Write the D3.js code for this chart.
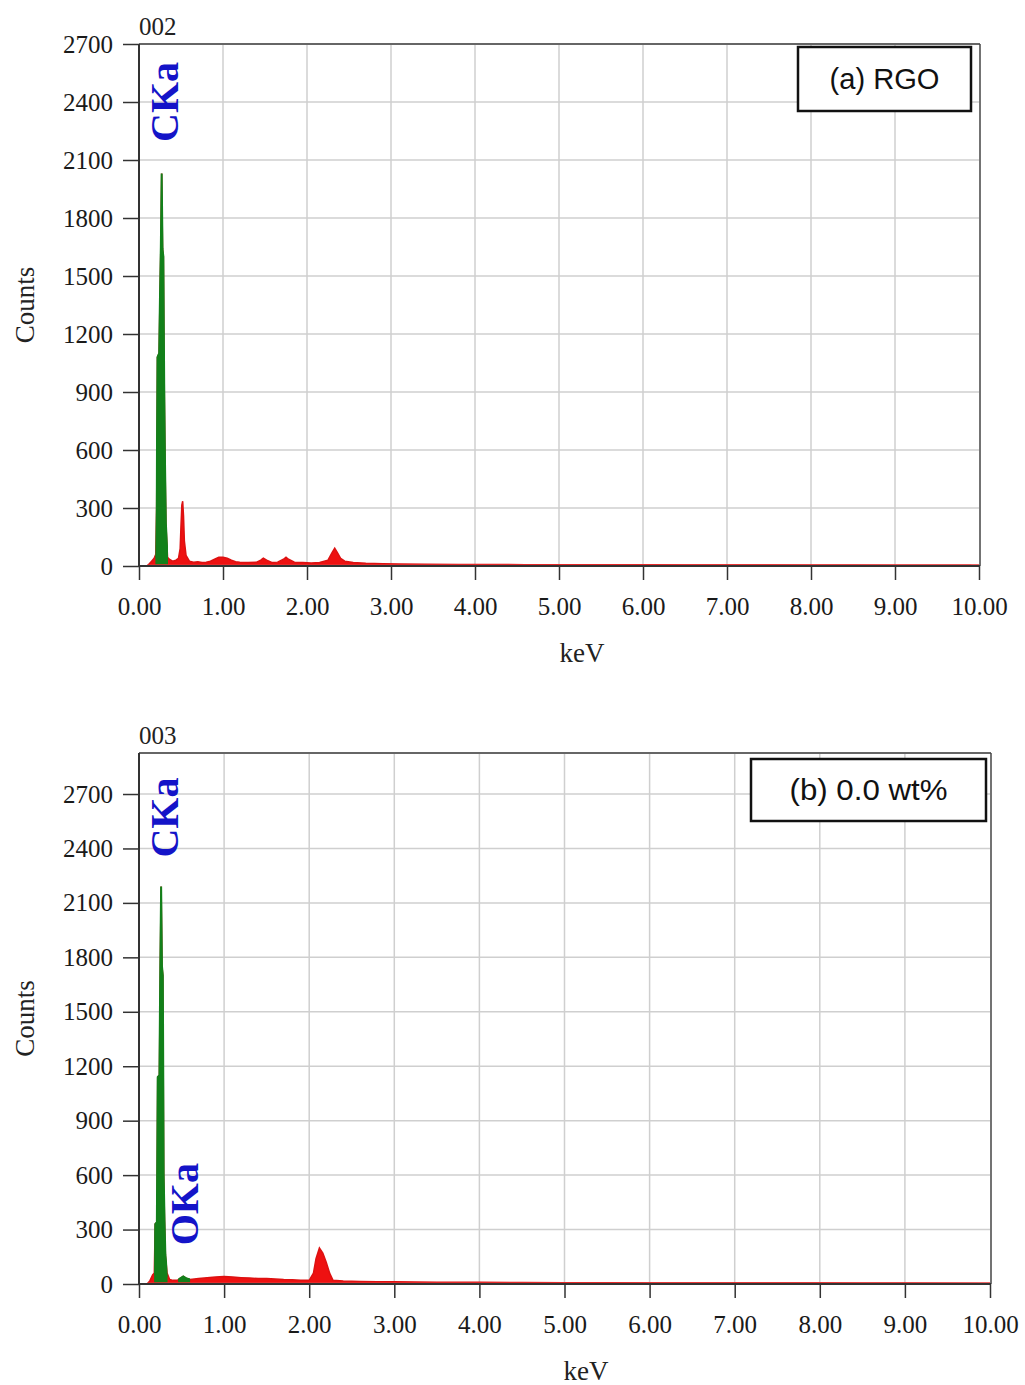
<!DOCTYPE html>
<html>
<head>
<meta charset="utf-8">
<script src="https://cdn.jsdelivr.net/npm/d3@7"></script>
<style>
body { margin: 0; background: #fff; }
</style>
</head>
<body>
<script>
// shared axes
var kevTicks = [0, 1, 2, 3, 4, 5, 6, 7, 8, 9, 10];
var countTicks = [0, 300, 600, 900, 1200, 1500, 1800, 2100, 2400, 2700];

// (a) RGO spectrum, sample 002
var rgoKeV = [0.10, 0.12, 0.15, 0.18, 0.20, 0.21, 0.22, 0.23, 0.24, 0.25, 0.26, 0.27, 0.28, 0.29, 0.30, 0.31, 0.32, 0.33, 0.34, 0.36, 0.38, 0.40, 0.44, 0.47, 0.49, 0.50, 0.51, 0.52, 0.53, 0.54, 0.56, 0.60, 0.65, 0.70, 0.75, 0.80, 0.85, 0.90, 0.95, 1.00, 1.05, 1.10, 1.15, 1.20, 1.30, 1.40, 1.45, 1.48, 1.52, 1.58, 1.65, 1.72, 1.75, 1.78, 1.85, 1.95, 2.05, 2.15, 2.25, 2.30, 2.33, 2.36, 2.40, 2.45, 2.55, 2.70, 2.90, 3.10, 3.40, 3.80, 4.20, 4.60, 5.00, 5.50, 6.00, 6.50, 7.00, 7.50, 8.00, 8.50, 9.00, 9.50, 9.90];
var rgoCounts = [0, 10, 25, 40, 60, 300, 1080, 1090, 1100, 1400, 1650, 2030, 1640, 1600, 940, 520, 220, 130, 45, 35, 30, 25, 30, 40, 90, 210, 315, 335, 260, 130, 55, 25, 20, 22, 18, 20, 25, 35, 45, 45, 40, 30, 22, 20, 18, 20, 30, 40, 30, 18, 20, 35, 45, 35, 20, 18, 16, 18, 30, 70, 92, 70, 40, 25, 18, 14, 12, 10, 9, 8, 8, 7, 7, 6, 6, 5, 5, 5, 4, 4, 3, 3, 2];
var rgoPeaks = [[0.195, 0.345]];
var rgoLabels = [{ text: 'CKa', kev: 0.27, counts: 2400 }];

// (b) 0.0 wt%, sample 003
var wt0KeV = [0.10, 0.13, 0.16, 0.18, 0.19, 0.21, 0.22, 0.24, 0.25, 0.26, 0.27, 0.28, 0.29, 0.30, 0.31, 0.33, 0.36, 0.40, 0.45, 0.48, 0.52, 0.56, 0.60, 0.70, 0.80, 0.90, 1.00, 1.10, 1.20, 1.30, 1.40, 1.50, 1.60, 1.70, 1.80, 1.90, 2.00, 2.05, 2.08, 2.12, 2.16, 2.20, 2.24, 2.28, 2.40, 2.60, 2.80, 3.00, 3.50, 4.00, 4.50, 5.00, 5.50, 6.00, 6.50, 7.00, 7.50, 8.00, 8.50, 9.00, 9.50, 9.90];
var wt0Counts = [0, 20, 50, 60, 330, 340, 1140, 1150, 1740, 2190, 1750, 1700, 600, 350, 160, 60, 25, 20, 20, 30, 42, 30, 25, 30, 35, 38, 42, 38, 35, 33, 30, 30, 28, 25, 24, 20, 20, 60, 140, 198, 170, 120, 60, 20, 16, 14, 13, 12, 10, 9, 8, 7, 7, 6, 6, 5, 5, 5, 4, 4, 3, 2];
var wt0Peaks = [[0.178, 0.335], [0.46, 0.60]];
var wt0Labels = [{ text: 'CKa', kev: 0.27, counts: 2570 }, { text: 'OKa', kev: 0.50, counts: 440 }];

var svg = d3.select('body')
            .append('svg')
            .attr('width', 1025)
            .attr('height', 1385)
            .style('background-color', '#fff');

function drawPanel(p) {
  var x = d3.scaleLinear().domain([0, 10]).range([p.left, p.right]);
  var y = d3.scaleLinear().domain([0, p.yMax]).range([p.bottom, p.top]);
  var g = svg.append('g');

  // grid
  g.selectAll('line.vgrid')
    .data(kevTicks.slice(1, -1))
    .enter().append('line')
      .attr('x1', function(d) { return x(d); })
      .attr('x2', function(d) { return x(d); })
      .attr('y1', p.top)
      .attr('y2', p.bottom)
      .attr('stroke', '#cfcfcf')
      .attr('stroke-width', 1.5);
  g.selectAll('line.hgrid')
    .data(countTicks.slice(1))
    .enter().append('line')
      .attr('x1', p.left)
      .attr('x2', p.right)
      .attr('y1', function(d) { return y(d); })
      .attr('y2', function(d) { return y(d); })
      .attr('stroke', '#cfcfcf')
      .attr('stroke-width', 1.5);

  // spectrum
  var pts = p.kev.map(function(k, i) { return [k, p.counts[i]]; });
  var area = d3.area()
               .x(function(d) { return x(d[0]); })
               .y0(y(0))
               .y1(function(d) { return y(d[1]); });

  g.append('path')
    .datum(pts)
    .attr('d', area)
    .attr('fill', '#ee1111')
    .attr('stroke', '#dd1111')
    .attr('stroke-width', 1.5);

  var clipId = 'clip-' + p.id;
  svg.append('clipPath').attr('id', clipId)
    .selectAll('rect')
    .data(p.peaks)
    .enter().append('rect')
      .attr('x', function(d) { return x(d[0]); })
      .attr('width', function(d) { return x(d[1]) - x(d[0]); })
      .attr('y', p.top)
      .attr('height', p.bottom - p.top);

  g.append('path')
    .datum(pts)
    .attr('d', area)
    .attr('clip-path', 'url(#' + clipId + ')')
    .attr('fill', '#12801a')
    .attr('stroke', '#12801a')
    .attr('stroke-width', 2);

  // red baseline along the axis
  g.append('line')
    .attr('x1', x(0.1)).attr('x2', x(10))
    .attr('y1', y(0) - 1).attr('y2', y(0) - 1)
    .attr('stroke', '#e83030')
    .attr('stroke-width', 1.5);

  // frame
  g.append('line')
    .attr('x1', p.left).attr('x2', p.right + 1)
    .attr('y1', p.top).attr('y2', p.top)
    .attr('stroke', '#666').attr('stroke-width', 2);
  g.append('line')
    .attr('x1', p.right + 1).attr('x2', p.right + 1)
    .attr('y1', p.top).attr('y2', p.bottom)
    .attr('stroke', '#444').attr('stroke-width', 1.5);

  // axes
  var yAxis = g.append('g')
    .attr('transform', 'translate(' + p.left + ',0)')
    .call(d3.axisLeft(y).tickValues(countTicks).tickSize(16).tickPadding(10).tickFormat(d3.format('d')));
  var xAxis = g.append('g')
    .attr('transform', 'translate(0,' + p.bottom + ')')
    .call(d3.axisBottom(x).tickValues(kevTicks).tickSize(14).tickPadding(17).tickFormat(d3.format('.2f')));

  [yAxis, xAxis].forEach(function(ax) {
    ax.select('.domain').attr('stroke', '#333').attr('stroke-width', 2);
    ax.selectAll('.tick line').attr('stroke', '#333').attr('stroke-width', 1.5);
    ax.selectAll('.tick text')
      .attr('fill', '#1a1a1a')
      .style('font-family', '"Liberation Serif", "Times New Roman", serif')
      .style('font-size', '25px');
  });
  yAxis.select('.domain').attr('d', 'M0,' + p.top + 'V' + p.bottom);
  xAxis.select('.domain').attr('d', 'M' + p.left + ',0H' + (p.right + 1));

  // axis titles
  g.append('text')
    .attr('transform', 'translate(' + 34 + ',' + (p.top + p.bottom) / 2 + ') rotate(-90)')
    .attr('text-anchor', 'middle')
    .style('font-family', '"Liberation Serif", "Times New Roman", serif')
    .style('font-size', '27px')
    .attr('fill', '#222')
    .text('Counts');
  g.append('text')
    .attr('x', p.keVx)
    .attr('y', p.bottom + 96)
    .attr('text-anchor', 'middle')
    .style('font-family', '"Liberation Serif", "Times New Roman", serif')
    .style('font-size', '27px')
    .attr('fill', '#222')
    .text('keV');

  // sample number
  g.append('text')
    .attr('x', p.left)
    .attr('y', p.top - 9)
    .style('font-family', '"Liberation Serif", "Times New Roman", serif')
    .style('font-size', '25px')
    .attr('fill', '#222')
    .text(p.sample);

  // element labels
  g.selectAll('text.elem')
    .data(p.labels)
    .enter().append('text')
      .attr('transform', function(d) {
        return 'translate(' + (x(d.kev) + 16) + ',' + y(d.counts) + ') rotate(-90)';
      })
      .attr('text-anchor', 'middle')
      .style('font-family', '"Liberation Serif", "Times New Roman", serif')
      .style('font-size', '40px')
      .style('font-weight', 'bold')
      .attr('fill', '#1414c8')
      .text(function(d) { return d.text; });

  // legend box
  g.append('rect')
    .attr('x', p.box[0]).attr('y', p.box[1])
    .attr('width', p.box[2]).attr('height', p.box[3])
    .attr('fill', '#fff')
    .attr('stroke', '#111')
    .attr('stroke-width', 2.5);
  g.append('text')
    .attr('x', p.box[0] + p.box[2] / 2)
    .attr('y', p.box[1] + p.box[3] / 2 + 10)
    .attr('text-anchor', 'middle')
    .attr('textLength', p.titleWidth)
    .attr('lengthAdjust', 'spacingAndGlyphs')
    .style('font-family', '"Liberation Sans", Arial, sans-serif')
    .style('font-size', '29px')
    .attr('fill', '#111')
    .text(p.title);
}

drawPanel({
  id: 'a', sample: '002', title: '(a) RGO', titleWidth: 110, keVx: 582,
  left: 139, right: 979, top: 44, bottom: 566, yMax: 2700,
  kev: rgoKeV, counts: rgoCounts, peaks: rgoPeaks, labels: rgoLabels,
  box: [798, 47, 173, 64]
});

drawPanel({
  id: 'b', sample: '003', title: '(b) 0.0 wt%', titleWidth: 158, keVx: 586,
  left: 139, right: 990, top: 753, bottom: 1284, yMax: 2926,
  kev: wt0KeV, counts: wt0Counts, peaks: wt0Peaks, labels: wt0Labels,
  box: [751, 759, 235, 62]
});
</script>
</body>
</html>
